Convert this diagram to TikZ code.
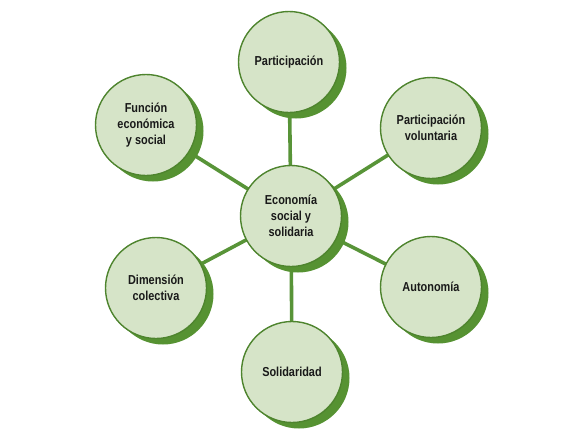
\documentclass[tikz,border=0pt]{standalone}
\usepackage{fontspec}
\setmainfont{Liberation Sans}
\newfontfamily\bubblefont[FakeStretch=0.84]{Liberation Sans}
\usepackage{tikz}
\usetikzlibrary{shadows}
\definecolor{bubblefill}{RGB}{214,228,200}
\definecolor{bubbleedge}{RGB}{78,132,46}
\definecolor{bubbleshade}{RGB}{86,146,50}
\definecolor{spoke}{RGB}{88,148,56}
\pgfdeclarelayer{background}
\pgfsetlayers{background,main}

\begin{document}
\begin{tikzpicture}[x=1pt,y=-1pt,
  bubble/.style={circle,draw=bubbleedge,line width=1.4pt,fill=bubblefill,
    minimum size=101pt,inner sep=0pt,align=center,text=black!90,
    font=\bubblefont\fontsize{13}{16}\selectfont\bfseries,
    drop shadow={shadow xshift=7pt,shadow yshift=-6pt,fill=bubbleshade,opacity=1}},
  spokeline/.style={spoke,line width=3.6pt}]
  \useasboundingbox (0,0) rectangle (562,437);
  % hub and the six surrounding ideas
  \node[bubble] (ess) at (291,216) {Economía\\social y\\solidaria};
  \node[bubble] (part) at (289,62) {Participación};
  \node[bubble] (volun) at (431,128) {Participación\\voluntaria};
  \node[bubble] (auto) at (431,287) {Autonomía};
  \node[bubble] (soli) at (292,372) {Solidaridad};
  \node[bubble] (dimen) at (156,288) {Dimensión\\colectiva};
  \node[bubble] (funcion) at (146,125) {Función\\económica\\y social};
  % spokes behind the bubbles
  \begin{pgfonlayer}{background}
    \foreach \n in {part,volun,auto,soli,dimen,funcion}
      \draw[spokeline] (ess.center) -- (\n.center);
  \end{pgfonlayer}
\end{tikzpicture}
\end{document}
